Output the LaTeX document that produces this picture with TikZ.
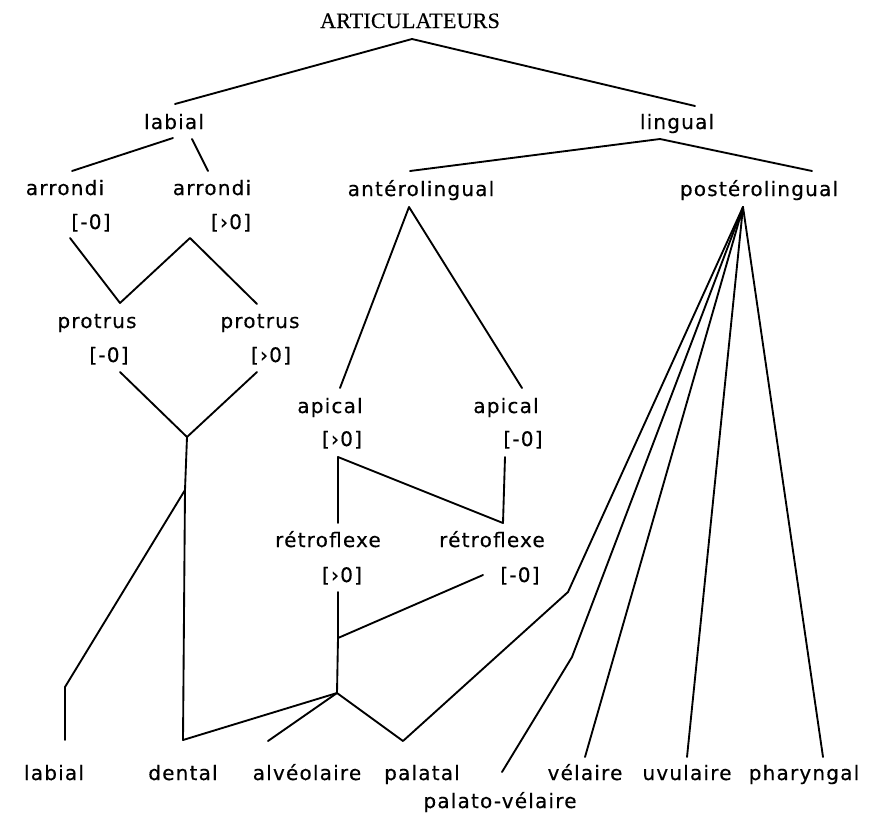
\documentclass[tikz,border=0pt]{standalone}
\usepackage{fontspec}
\setmainfont{DejaVu Sans}
\newfontfamily\labfont[LetterSpace=6,FakeBold=0.4]{DejaVu Sans}
\newfontfamily\ttlfont[LetterSpace=1,FakeBold=0.3]{Liberation Serif}
\tikzset{
  lab/.style={font=\labfont\fontsize{15pt}{18pt}\selectfont, inner sep=0pt, anchor=base},
  ttl/.style={font=\ttlfont\fontsize{16.5pt}{20pt}\selectfont, inner sep=0pt, anchor=base},
  ln/.style={line width=1.4pt, line join=round, line cap=round}
}
\begin{document}
\begin{tikzpicture}[x=0.75pt,y=-0.75pt]
\useasboundingbox[fill=white] (0,0) rectangle (881,818);
% texts
\node[ttl] (art) at (410,28) {ARTICULATEURS};
\node[lab] (labial) at (174,129) {labial};
\node[lab] (lingual) at (677,129) {lingual};
\node[lab] (arrL) at (65,195) {arrondi};
\node[lab] (arrLv) at (91,229) {[-0]};
\node[lab] (arrR) at (212,195) {arrondi};
\node[lab] (arrRv) at (231,229) {[›0]};
\node[lab] (ant) at (421,196) {antérolingual};
\node[lab] (post) at (759,196) {postérolingual};
\node[lab] (proL) at (97,328) {protrus};
\node[lab] (proLv) at (109,362) {[-0]};
\node[lab] (proR) at (260,328) {protrus};
\node[lab] (proRv) at (271,362) {[›0]};
\node[lab] (apL) at (330,413) {apical};
\node[lab] (apLv) at (342,446) {[›0]};
\node[lab] (apR) at (506,413) {apical};
\node[lab] (apRv) at (523,446) {[-0]};
\node[lab] (retL) at (328,547) {rétroflexe};
\node[lab] (retLv) at (342,582) {[›0]};
\node[lab] (retR) at (492,547) {rétroflexe};
\node[lab] (retRv) at (520,582) {[-0]};
\node[lab] (labB) at (54,780) {labial};
\node[lab] (dental) at (183,780) {dental};
\node[lab] (alv) at (307,780) {alvéolaire};
\node[lab] (pal) at (422,780) {palatal};
\node[lab] (vel) at (585,780) {vélaire};
\node[lab] (uvu) at (687,780) {uvulaire};
\node[lab] (pha) at (804,780) {pharyngal};
\node[lab] (palvel) at (500,808) {palato-vélaire};
% connector points
\coordinate (artS) at (412,39);
\coordinate (labN) at (175,104);
\coordinate (linN) at (695,106);
\coordinate (labS1) at (173,138);
\coordinate (labS2) at (192,139);
\coordinate (arrLN) at (72,171);
\coordinate (arrRN) at (208,171);
\coordinate (linS) at (660,139);
\coordinate (antN) at (410,171);
\coordinate (postN) at (812,171);
\coordinate (arrLS) at (70,238);
\coordinate (pA) at (120,303);
\coordinate (arrRS) at (190,238);
\coordinate (pB) at (257,304);
\coordinate (proLS) at (120,372);
\coordinate (jProt) at (187,437);
\coordinate (proRS) at (257,372);
\coordinate (jDen) at (185,490);
\coordinate (denE) at (183,740);
\coordinate (jAlv) at (337,693);
\coordinate (labK) at (65,687);
\coordinate (labE) at (65,740);
\coordinate (antS) at (409,207);
\coordinate (apLN) at (340,388);
\coordinate (apRN) at (522,388);
\coordinate (apLS) at (338,457);
\coordinate (retLN) at (338,523);
\coordinate (retRN) at (503,523);
\coordinate (apRS) at (505,457);
\coordinate (retLS) at (338,592);
\coordinate (jRet) at (338,638);
\coordinate (retRS) at (483,575);
\coordinate (alvE) at (268,741);
\coordinate (palE) at (403,741);
\coordinate (pvK1) at (568,592);
\coordinate (postS) at (743,207);
\coordinate (pvE) at (502,772);
\coordinate (pvK2) at (572,657);
\coordinate (velE) at (585,757);
\coordinate (uvuE) at (687,757);
\coordinate (phaE) at (823,757);
% connectors
\draw[ln] (labN) -- (artS) -- (linN);
\draw[ln] (labS1) -- (arrLN);
\draw[ln] (labS2) -- (arrRN);
\draw[ln] (antN) -- (linS) -- (postN);
\draw[ln] (arrLS) -- (pA) -- (arrRS) -- (pB);
\draw[ln] (proLS) -- (jProt) -- (proRS);
\draw[ln] (jProt) -- (jDen) -- (denE) -- (jAlv);
\draw[ln] (jDen) -- (labK) -- (labE);
\draw[ln] (apLN) -- (antS) -- (apRN);
\draw[ln] (retLN) -- (apLS) -- (retRN) -- (apRS);
\draw[ln] (retLS) -- (jRet) -- (jAlv);
\draw[ln] (jRet) -- (retRS);
\draw[ln] (alvE) -- (jAlv) -- (palE) -- (pvK1) -- (postS);
\draw[ln] (pvE) -- (pvK2) -- (postS);
\draw[ln] (velE) -- (postS) -- (uvuE);
\draw[ln] (postS) -- (phaE);
\end{tikzpicture}
\end{document}
